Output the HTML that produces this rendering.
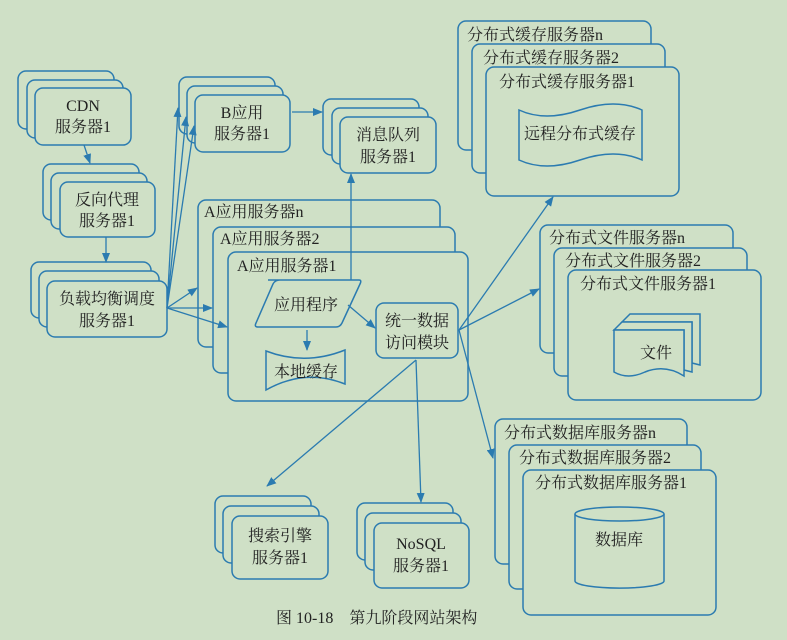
<!DOCTYPE html>
<html><head><meta charset="utf-8"><style>
body{margin:0;background:#cfe0c6;}
svg{display:block;font-family:"Liberation Serif","Noto Serif CJK SC","Noto Sans CJK SC",serif;}
</style></head><body>
<svg width="787" height="640" viewBox="0 0 787 640" xmlns="http://www.w3.org/2000/svg">
<defs><marker id="a" markerWidth="10" markerHeight="8" refX="9" refY="4" orient="auto" markerUnits="userSpaceOnUse"><path d="M0,0 L10,4 L0,8 z" fill="#2b7bb0"/></marker></defs>
<rect width="787" height="640" fill="#cfe0c6"/>
<g fill="#cfe0c6" stroke="#2b7bb0" stroke-width="1.5">
<rect x="18" y="71" width="96" height="58" rx="8"/><rect x="27" y="80" width="96" height="58" rx="8"/><rect x="35" y="88" width="96" height="57" rx="8"/>
<rect x="43" y="164" width="96" height="56" rx="8"/><rect x="51" y="173" width="96" height="56" rx="8"/><rect x="60" y="182" width="95" height="55" rx="8"/>
<rect x="31" y="262" width="120" height="56" rx="8"/><rect x="39" y="271" width="120" height="56" rx="8"/><rect x="47" y="281" width="120" height="56" rx="8"/>
<rect x="179" y="77" width="96" height="57" rx="8"/><rect x="187" y="86" width="96" height="57" rx="8"/><rect x="195" y="95" width="95" height="57" rx="8"/>
<rect x="323" y="99" width="96" height="56" rx="8"/><rect x="332" y="108" width="96" height="56" rx="8"/><rect x="340" y="117" width="96" height="56" rx="8"/>
<rect x="198" y="200" width="242" height="147" rx="8"/><rect x="213" y="227" width="242" height="146" rx="8"/><rect x="228" y="252" width="240" height="149" rx="8"/>
<rect x="458" y="21" width="193" height="129" rx="8"/><rect x="472" y="44" width="193" height="129" rx="8"/><rect x="486" y="67" width="193" height="129" rx="8"/>
<rect x="540" y="225" width="193" height="128" rx="8"/><rect x="554" y="248" width="193" height="128" rx="8"/><rect x="568" y="270" width="193" height="130" rx="8"/>
<rect x="495" y="419" width="192" height="145" rx="8"/><rect x="509" y="445" width="192" height="144" rx="8"/><rect x="523" y="470" width="193" height="145" rx="8"/>
<rect x="215" y="496" width="96" height="57" rx="8"/><rect x="223" y="506" width="96" height="57" rx="8"/><rect x="232" y="516" width="96" height="63" rx="8"/>
<rect x="357" y="503" width="96" height="57" rx="8"/><rect x="365" y="513" width="96" height="57" rx="8"/><rect x="374" y="523" width="95" height="65" rx="8"/>
<path d="M268,280 L359,280 Q362,280 360,284 L342,323 Q340,327 336,327 L258,327 Q254,327 256,323 L273,284 Q275,280 280,280 Z"/>
<path d="M266,351 Q305,366 345,350 L345,384 Q305,368 266,390 Z"/>
<rect x="376" y="303" width="82" height="55" rx="8"/>
<path d="M519,110 Q545,122 580,110 Q615,98 642,110 L642,160 Q615,148 580,160 Q545,172 519,160 Z"/>
<path d="M630,314 L700,314 L700,365 L692,363 L692,322 L622,322 Z"/>
<path d="M622,322 L692,322 L692,372 L684,370 L684,330 L614,330 Z"/>
<path d="M614,330 L684,330 L684,376 Q665,364 645,372 Q628,380 614,372 Z"/>
<path d="M575,514 L575,581 A44,7 0 0 0 664,581 L664,514"/>
<ellipse cx="619.5" cy="514" rx="44.5" ry="7"/>
</g>
<g stroke="#2b7bb0" stroke-width="1.3" fill="none" marker-end="url(#a)">
<line x1="84" y1="145" x2="90" y2="163"/>
<line x1="106" y1="237" x2="106" y2="262"/>
<line x1="167" y1="308" x2="178" y2="108"/>
<line x1="167" y1="308" x2="186" y2="117"/>
<line x1="167" y1="308" x2="194" y2="126"/>
<line x1="167" y1="308" x2="197" y2="288"/>
<line x1="167" y1="308" x2="212" y2="308"/>
<line x1="167" y1="308" x2="227" y2="327"/>
<line x1="292" y1="112" x2="322" y2="112"/>
<line x1="351" y1="280" x2="351" y2="174"/>
<line x1="348" y1="305" x2="375" y2="328"/>
<line x1="307" y1="330" x2="307" y2="350"/>
<line x1="459" y1="330" x2="553" y2="197"/>
<line x1="459" y1="330" x2="539" y2="289"/>
<line x1="459" y1="330" x2="493" y2="458"/>
<line x1="416" y1="360" x2="267" y2="486"/>
<line x1="416" y1="360" x2="421" y2="502"/>
</g>
<g font-size="16" fill="#222" text-anchor="middle">
<text x="83" y="111">CDN</text><text x="83" y="132">服务器1</text>
<text x="107" y="205">反向代理</text><text x="107" y="226">服务器1</text>
<text x="107" y="304">负载均衡调度</text><text x="107" y="326">服务器1</text>
<text x="242" y="118">B应用</text><text x="242" y="139">服务器1</text>
<text x="388" y="140">消息队列</text><text x="388" y="162">服务器1</text>
<text x="306" y="310">应用程序</text>
<text x="306" y="377">本地缓存</text>
<text x="417" y="326">统一数据</text><text x="417" y="348">访问模块</text>
<text x="580" y="139">远程分布式缓存</text>
<text x="656" y="358">文件</text>
<text x="619" y="545">数据库</text>
<text x="280" y="541">搜索引擎</text><text x="280" y="563">服务器1</text>
<text x="421" y="549">NoSQL</text><text x="421" y="571">服务器1</text>
</g>
<g font-size="16" fill="#222">
<text x="204" y="217">A应用服务器n</text><text x="220" y="244">A应用服务器2</text><text x="237" y="271">A应用服务器1</text>
<text x="467" y="40">分布式缓存服务器n</text><text x="483" y="63">分布式缓存服务器2</text><text x="499" y="87">分布式缓存服务器1</text>
<text x="549" y="243">分布式文件服务器n</text><text x="565" y="266">分布式文件服务器2</text><text x="580" y="289">分布式文件服务器1</text>
<text x="504" y="438">分布式数据库服务器n</text><text x="519" y="463">分布式数据库服务器2</text><text x="535" y="488">分布式数据库服务器1</text>
<text x="276" y="623">图 10-18　第九阶段网站架构</text>
</g>
</svg>
</body></html>
